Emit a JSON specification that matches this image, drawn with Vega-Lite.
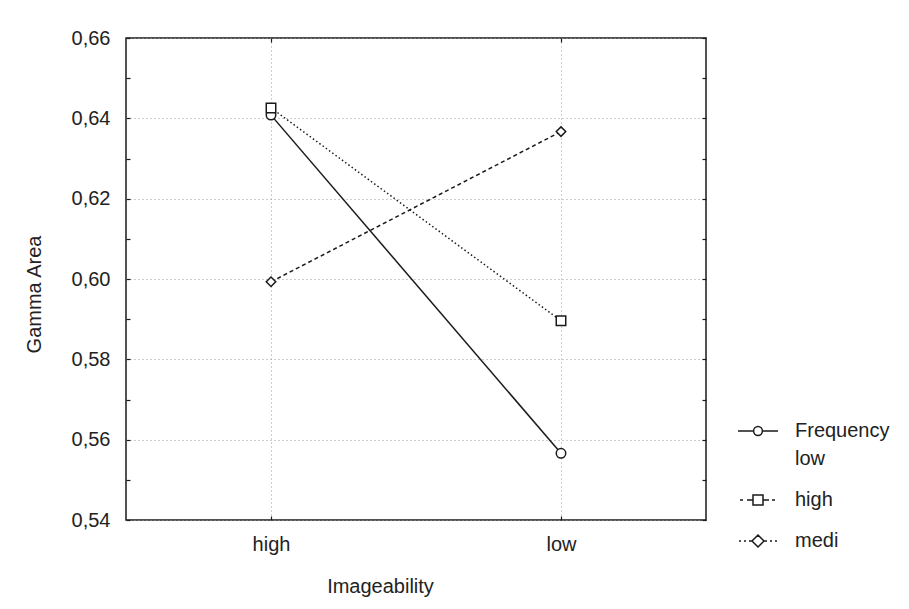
{
  "$schema": "https://vega.github.io/schema/vega-lite/v6.json",
  "width": 580,
  "height": 482,
  "autosize": {"type": "none"},
  "padding": {"left": 126, "top": 38, "right": 203, "bottom": 89},
  "background": "white",
  "config": {
    "font": "Liberation Sans",
    "view": {"stroke": "#1a1a1a", "strokeWidth": 1.5},
    "axis": {
      "labelFont": "Liberation Sans",
      "labelFontSize": 20,
      "labelColor": "#222222",
      "titleFont": "Liberation Sans",
      "titleFontSize": 20,
      "titleFontWeight": "normal",
      "titleColor": "#222222",
      "domain": false,
      "tickColor": "#1a1a1a",
      "tickWidth": 1.2,
      "gridColor": "#9a9a9a",
      "gridDash": [1, 3],
      "gridWidth": 1
    },
    "line": {"color": "#1a1a1a", "strokeWidth": 1.5}
  },
  "data": {
    "values": [
      {"Imageability": "high", "Frequency": "low", "GammaArea": 0.6408},
      {"Imageability": "low", "Frequency": "low", "GammaArea": 0.5566},
      {"Imageability": "high", "Frequency": "high", "GammaArea": 0.6426},
      {"Imageability": "low", "Frequency": "high", "GammaArea": 0.5896},
      {"Imageability": "high", "Frequency": "medi", "GammaArea": 0.5993},
      {"Imageability": "low", "Frequency": "medi", "GammaArea": 0.6367}
    ]
  },
  "layer": [
    {
      "transform": [{"filter": "datum.Frequency == 'low'"}],
      "mark": {"type": "line"},
      "encoding": {
        "x": {
          "field": "Imageability",
          "type": "nominal",
          "sort": ["high", "low"],
          "scale": {"type": "point", "padding": 0.5},
          "axis": {
            "orient": "bottom",
            "labelAngle": 0,
            "tickSize": -4,
            "labelPadding": 18,
            "grid": true,
            "title": "Imageability",
            "titleX": 254,
            "titleY": 66,
            "titleBaseline": "middle"
          }
        },
        "y": {
          "field": "GammaArea",
          "type": "quantitative",
          "scale": {"domain": [0.54, 0.66], "nice": false, "zero": false},
          "axis": {
            "orient": "left",
            "values": [0.54, 0.55, 0.56, 0.57, 0.58, 0.59, 0.6, 0.61, 0.62, 0.63, 0.64, 0.65, 0.66],
            "labelExpr": "round(datum.value * 100) % 2 == 0 ? replace(format(datum.value, '.2f'), '.', ',') : ''",
            "tickSize": -4,
            "labelPadding": 20,
            "grid": true,
            "gridOpacity": {"condition": {"test": "round(datum.value * 100) % 2 == 1", "value": 0}, "value": 1},
            "title": "Gamma Area",
            "titleAngle": -90,
            "titleX": -92,
            "titleY": 256,
            "titleBaseline": "middle"
          }
        }
      }
    },
    {
      "transform": [{"filter": "datum.Frequency == 'high'"}],
      "mark": {"type": "line", "strokeDash": [1.5, 2.5]},
      "encoding": {
        "x": {"field": "Imageability", "type": "nominal", "sort": ["high", "low"], "axis": null},
        "y": {"field": "GammaArea", "type": "quantitative", "axis": null}
      }
    },
    {
      "transform": [{"filter": "datum.Frequency == 'medi'"}],
      "mark": {"type": "line", "strokeDash": [4, 3]},
      "encoding": {
        "x": {"field": "Imageability", "type": "nominal", "sort": ["high", "low"], "axis": null},
        "y": {"field": "GammaArea", "type": "quantitative", "axis": null}
      }
    },
    {
      "mark": {"type": "point", "filled": true, "fill": "white", "stroke": "#1a1a1a", "strokeWidth": 1.5, "size": 90, "opacity": 1},
      "encoding": {
        "x": {
          "field": "Imageability",
          "type": "nominal",
          "sort": ["high", "low"],
          "axis": {"orient": "top", "labels": false, "tickSize": -4, "grid": false, "title": null}
        },
        "y": {
          "field": "GammaArea",
          "type": "quantitative",
          "axis": {
            "orient": "right",
            "values": [0.54, 0.55, 0.56, 0.57, 0.58, 0.59, 0.6, 0.61, 0.62, 0.63, 0.64, 0.65, 0.66],
            "labels": false,
            "tickSize": -4,
            "grid": false,
            "title": null
          }
        },
        "shape": {
          "field": "Frequency",
          "type": "nominal",
          "scale": {"domain": ["low", "high", "medi"], "range": ["circle", "square", "diamond"]},
          "legend": null
        }
      }
    },
    {
      "mark": {"type": "point", "filled": true, "fill": "white", "stroke": "#1a1a1a", "strokeWidth": 1.5, "size": 1600, "opacity": 0},
      "encoding": {
        "x": {"field": "Imageability", "type": "nominal", "sort": ["high", "low"], "axis": null},
        "y": {"field": "GammaArea", "type": "quantitative", "axis": null},
        "shape": {
          "field": "Frequency",
          "type": "nominal",
          "scale": {
            "domain": ["low", "high", "medi"],
            "range": [
              "M-1,0L-0.22,0M0.22,0L1,0M0.22,0A0.22,0.22,0,1,1,-0.22,0A0.22,0.22,0,1,1,0.22,0",
              "M-0.9,0L-0.75,0M-0.55,0L-0.27,0M-0.25,-0.25L0.25,-0.25L0.25,0.25L-0.25,0.25ZM0.27,0L0.55,0M0.7,0L0.85,0",
              "M-0.95,0L-0.85,0M-0.7,0L-0.6,0M-0.45,0L-0.32,0M0,-0.3L0.3,0L0,0.3L-0.3,0ZM0.32,0L0.45,0M0.6,0L0.7,0M0.85,0L0.95,0"
            ]
          },
          "legend": {
            "orient": "none",
            "legendX": 611,
            "legendY": 372,
            "title": null,
            "padding": 0,
            "symbolSize": 1600,
            "symbolStrokeWidth": 1.5,
            "symbolStrokeColor": "#1a1a1a",
            "symbolFillColor": "white",
            "symbolOpacity": 1,
            "labelFont": "Liberation Sans",
            "labelFontSize": 20,
            "labelColor": "#222222",
            "labelOffset": 16,
            "labelLimit": 300,
            "rowPadding": 10,
            "labelExpr": "datum.value == 'low' ? ['Frequency', 'low'] : datum.label",
            "encoding": {
              "symbols": {
                "stroke": {"value": "#1a1a1a"},
                "fill": {"value": "white"},
                "strokeWidth": {"value": 1.5},
                "opacity": {"value": 1}
              },
              "labels": {
                "lineHeight": {"value": 28}
              }
            }
          }
        }
      }
    }
  ],
  "resolve": {
    "axis": {"x": "independent", "y": "independent"},
    "scale": {"shape": "independent"}
  }
}
